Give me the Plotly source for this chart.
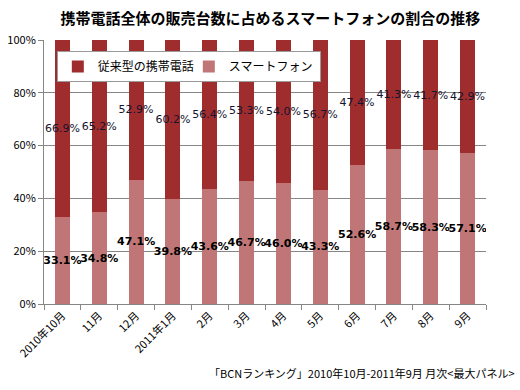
import plotly.graph_objects as go

categories = ["2010年10月", "11月", "12月", "2011年1月", "2月", "3月", "4月", "5月", "6月", "7月", "8月", "9月"]
smartphone = [33.1, 34.8, 47.1, 39.8, 43.6, 46.7, 46.0, 43.3, 52.6, 58.7, 58.3, 57.1]
conventional = [66.9, 65.2, 52.9, 60.2, 56.4, 53.3, 54.0, 56.7, 47.4, 41.3, 41.7, 42.9]
y_ticks = [0, 20, 40, 60, 80, 100]
y_tick_labels = ["0%", "20%", "40%", "60%", "80%", "100%"]

FONT = "Noto Sans CJK JP"

fig = go.Figure()
fig.add_trace(go.Bar(
    x=categories, y=smartphone, name="スマートフォン",
    marker=dict(color="#C07676", line=dict(width=0)),
    text=[f"{v:.1f}%" for v in smartphone],
    textposition="inside", insidetextanchor="middle", constraintext="none",
    textfont=dict(family="DejaVu Sans", size=11, color="#000000", weight="bold"),
    textangle=0,
))
fig.add_trace(go.Bar(
    x=categories, y=conventional, name="従来型の携帯電話",
    marker=dict(color="#A02D2E", line=dict(width=0)),
    text=[f"{v:.1f}%" for v in conventional],
    textposition="inside", insidetextanchor="middle", constraintext="none",
    textfont=dict(family="DejaVu Sans", size=11, color="#14142e"),
    textangle=0,
))

fig.update_layout(
    width=520, height=390,
    barmode="stack", bargap=0.59,
    paper_bgcolor="white", plot_bgcolor="white",
    margin=dict(l=44, r=34, t=40, b=86, autoexpand=False),
    font=dict(family=FONT, size=11, color="#000000"),
    title=dict(text="<b>携帯電話全体の販売台数に占めるスマートフォンの割合の推移</b>",
               x=0.52, xanchor="center", y=0.952, yanchor="middle",
               font=dict(family=FONT, size=15, color="#000000")),
    showlegend=True,
    legend=dict(orientation="h", traceorder="reversed",
                x=0.029, xanchor="left", y=0.958, yanchor="top",
                bgcolor="white", bordercolor="#9a9a9a", borderwidth=1,
                font=dict(family=FONT, size=12, color="#000000"),
                itemwidth=30, entrywidth=86, entrywidthmode="pixels"),
    xaxis=dict(type="category", showline=True, linecolor="#868686", linewidth=1,
               ticks="outside", tickson="boundaries", ticklen=5, tickcolor="#868686",
               tickangle=-45, tickfont=dict(family=FONT, size=11, color="#000000"),
               showgrid=False),
    yaxis=dict(range=[0, 100], tickvals=y_ticks, ticktext=y_tick_labels,
               showline=True, linecolor="#868686", linewidth=1,
               ticks="outside", ticklen=5, tickcolor="#868686",
               showgrid=True, gridcolor="#868686", gridwidth=1,
               tickfont=dict(family=FONT, size=11, color="#000000"), zeroline=False),
    annotations=[dict(text="「BCNランキング」2010年10月-2011年9月 月次<最大パネル>",
                      xref="paper", yref="paper", x=1.07, y=-0.261,
                      xanchor="right", yanchor="middle", showarrow=False,
                      font=dict(family=FONT, size=11, color="#000000"))],
)

fig.write_html("out.html", config={"displayModeBar": False},
               post_script="document.body.style.margin='0';document.body.style.padding='0';")
